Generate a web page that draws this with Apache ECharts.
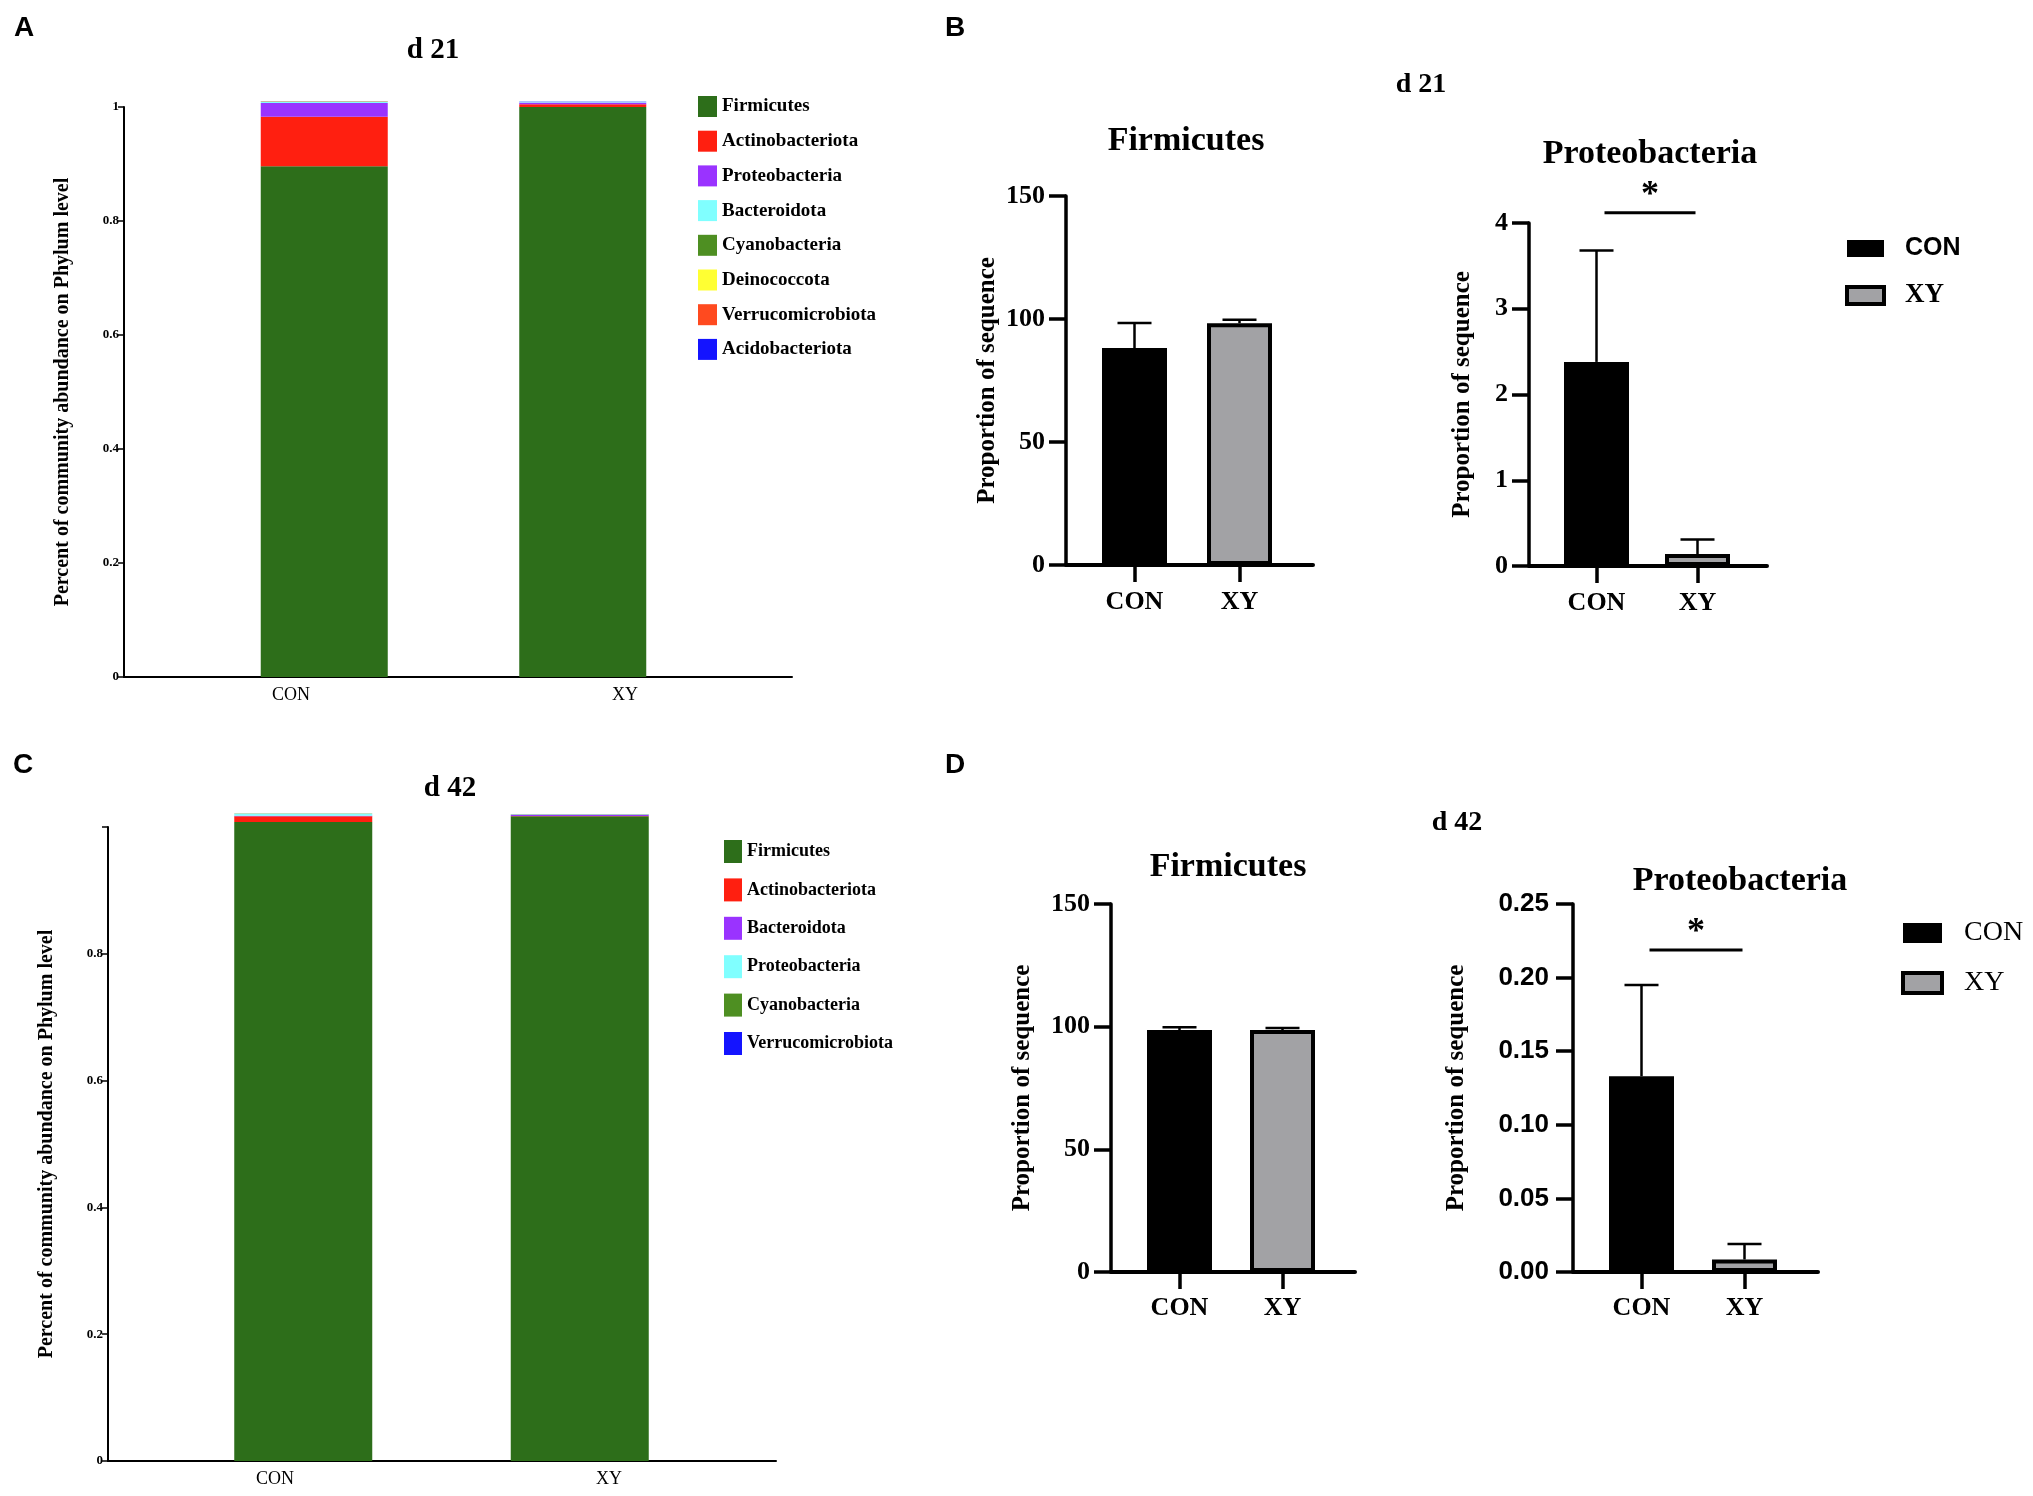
<!DOCTYPE html>
<html>
<head>
<meta charset="utf-8">
<title>Phylum level abundance</title>
<script src="https://cdn.jsdelivr.net/npm/echarts@6/dist/echarts.min.js"></script>
<style>
  * { margin: 0; padding: 0; }
  body { background: #fff; }
  #main { width: 2033px; height: 1496px; }
</style>
</head>
<body>
<div id="main"></div>
<script>
// ---- data ----
var groups = ['CON', 'XY'];

// A: d 21 stacked abundance, one [CON, XY] pair per phylum
var phylaD21 = ['Firmicutes', 'Actinobacteriota', 'Proteobacteria', 'Bacteroidota',
  'Cyanobacteria', 'Deinococcota', 'Verrucomicrobiota', 'Acidobacteriota'];
var colorsD21 = ['#2d6e1a', '#ff1f10', '#9a33ff', '#80ffff', '#4e8f22', '#ffff33', '#ff4a1f', '#1414ff'];
var abundanceD21 = [[0.896, 1.000], [0.087, 0.005], [0.024, 0.003], [0.002, 0.001],
  [0.0005, 0.0002], [0.0003, 0.0001], [0.0003, 0.0001], [0.0002, 0.0001]];

// C: d 42 stacked abundance
var phylaD42 = ['Firmicutes', 'Actinobacteriota', 'Bacteroidota', 'Proteobacteria',
  'Cyanobacteria', 'Verrucomicrobiota'];
var colorsD42 = ['#2d6e1a', '#ff1f10', '#9a33ff', '#80ffff', '#4e8f22', '#1414ff'];
var abundanceD42 = [[1.008, 1.017], [0.009, 0.0005], [0.0008, 0.002], [0.003, 0.0003],
  [0.0003, 0.0002], [0.0002, 0.0001]];

// B / D: mean and SD of proportion of sequence, [CON, XY]
var firmD21Mean = [88.2, 98.3];
var firmD21Sd = [10.2, 1.4];
var proteoD21Mean = [2.38, 0.14];
var proteoD21Sd = [1.30, 0.17];
var firmD42Mean = [98.6, 98.6];
var firmD42Sd = [1.2, 0.9];
var proteoD42Mean = [0.133, 0.0085];
var proteoD42Sd = [0.062, 0.0105];
// significance bar: [line value, star value]
var sigD21 = [4.12, 4.32];
var sigD42 = [0.2188, 0.2305];

var SERIF = '"Liberation Serif", "Times New Roman", serif';
var SANS = '"Liberation Sans", Arial, sans-serif';
var GRAY = '#a2a2a5';

// grids: [left, top, width, height]
var gridBoxes = [
  [124, 107, 668, 570],   // 0 A frame
  [195, 107, 517, 570],   // 1 A bars
  [108, 827, 668, 634],   // 2 C frame
  [165, 827, 553, 634],   // 3 C bars
  [1066, 196, 247, 369],  // 4 B firmicutes frame
  [1082, 196, 210, 369],  // 5 B firmicutes bars
  [1529, 223, 238, 343],  // 6 B proteo frame
  [1546, 223, 202, 343],  // 7 B proteo bars
  [1111, 904, 244, 368],  // 8 D firmicutes frame
  [1128, 904, 206, 368],  // 9 D firmicutes bars
  [1573, 904, 245, 368],  // 10 D proteo frame
  [1590, 904, 206, 368]   // 11 D proteo bars
];

var grid = gridBoxes.map(function (b) {
  return { left: b[0], top: b[1], width: b[2], height: b[3] };
});

var xAxis = [];
var yAxis = [];

// stacked-abundance panels (A, C)
function abundAxes(frame, bars, showTop) {
  xAxis[frame] = {
    type: 'category', gridIndex: frame, data: groups,
    axisLine: { lineStyle: { color: '#000', width: 2 } },
    axisTick: { alignWithLabel: true, length: 6, lineStyle: { color: '#000', width: 1.5 } },
    axisLabel: { color: '#000', fontFamily: SERIF, fontSize: 18, margin: 9 }
  };
  yAxis[frame] = {
    type: 'value', gridIndex: frame, min: 0, max: 1, interval: 0.2,
    name: 'Percent of community abundance on Phylum level',
    nameLocation: 'middle', nameGap: 51,
    nameTextStyle: { color: '#000', fontFamily: SERIF, fontWeight: 'bold', fontSize: 20 },
    splitLine: { show: false },
    axisLine: { show: true, lineStyle: { color: '#000', width: 2 } },
    axisTick: { show: true, length: 6, lineStyle: { color: '#000', width: 1.5 } },
    axisLabel: {
      color: '#000', fontFamily: SERIF, fontWeight: 'bold', fontSize: 13, margin: 5,
      formatter: function (v) { return (v === 1 && !showTop) ? '' : String(+v.toFixed(1)); }
    }
  };
  xAxis[bars] = { type: 'category', gridIndex: bars, data: groups, show: false };
  yAxis[bars] = { type: 'value', gridIndex: bars, min: 0, max: 1, show: false };
}
abundAxes(0, 1, true);
abundAxes(2, 3, false);

// mean +/- SD panels (B, D)
function meanAxes(frame, bars, max, interval, nameGap, labelFont, labelMargin, xMargin, fmt) {
  xAxis[frame] = {
    type: 'category', gridIndex: frame, data: groups,
    axisLine: { lineStyle: { color: '#000', width: 4 } },
    axisTick: { show: false }, axisLabel: { show: false }
  };
  yAxis[frame] = {
    type: 'value', gridIndex: frame, min: 0, max: max, interval: interval,
    name: 'Proportion of sequence', nameLocation: 'middle', nameGap: nameGap,
    nameTextStyle: { color: '#000', fontFamily: SERIF, fontWeight: 'bold', fontSize: 25 },
    splitLine: { show: false },
    axisLine: { show: true, lineStyle: { color: '#000', width: 3.5 } },
    axisTick: { show: true, length: 17, lineStyle: { color: '#000', width: 3.5 } },
    axisLabel: {
      color: '#000', fontFamily: labelFont, fontWeight: 'bold', fontSize: 26, margin: labelMargin,
      formatter: fmt
    }
  };
  xAxis[bars] = {
    type: 'category', gridIndex: bars, data: groups,
    axisLine: { show: false },
    axisTick: { show: true, alignWithLabel: true, length: 17, lineStyle: { color: '#000', width: 3.5 } },
    axisLabel: { color: '#000', fontFamily: SERIF, fontWeight: 'bold', fontSize: 26, margin: xMargin }
  };
  yAxis[bars] = { type: 'value', gridIndex: bars, min: 0, max: max, show: false };
}
meanAxes(4, 5, 150, 50, 66, SERIF, 21, 24);
meanAxes(6, 7, 4, 1, 54, SERIF, 21, 24);
meanAxes(8, 9, 150, 50, 76, SERIF, 21, 23);
meanAxes(10, 11, 0.25, 0.05, 104, SANS, 24, 23, function (v) { return v.toFixed(2); });

var series = [];

function stackSeries(idx, names, colors, values, stackId, barWidth) {
  names.forEach(function (n, i) {
    series.push({
      type: 'bar', name: n, xAxisIndex: idx, yAxisIndex: idx, stack: stackId,
      barWidth: barWidth, clip: false, data: values[i],
      itemStyle: { color: colors[i] }
    });
  });
}
stackSeries(1, phylaD21, colorsD21, abundanceD21, 'd21', 127);
stackSeries(3, phylaD42, colorsD42, abundanceD42, 'd42', 138);

function errRender(params, api) {
  var x = api.value(0), m = api.value(1), s = api.value(2);
  var p0 = api.coord([x, m]);
  var p1 = api.coord([x, m + s]);
  var st = { stroke: '#000', lineWidth: 2.5 };
  return {
    type: 'group', children: [
      { type: 'line', shape: { x1: p0[0], y1: p0[1], x2: p1[0], y2: p1[1] }, style: st },
      { type: 'line', shape: { x1: p1[0] - 17, y1: p1[1], x2: p1[0] + 17, y2: p1[1] }, style: st }
    ]
  };
}

function sigRender(params, api) {
  var yl = api.value(2), ys = api.value(3);
  var p0 = api.coord([0, yl]);
  var p1 = api.coord([1, yl]);
  var sy = api.coord([0, ys])[1];
  return {
    type: 'group', children: [
      { type: 'line', shape: { x1: p0[0] + 8, y1: p0[1], x2: p1[0] - 2, y2: p1[1] },
        style: { stroke: '#000', lineWidth: 3 } },
      { type: 'text', x: (p0[0] + p1[0]) / 2 + 3, y: sy,
        style: { text: '*', fill: '#000', font: 'bold 36px ' + SERIF,
          align: 'center', verticalAlign: 'middle', textAlign: 'center', textVerticalAlign: 'middle' } }
    ]
  };
}

function meanSeries(idx, means, sds, stackId, sig) {
  series.push({
    type: 'bar', name: 'CON', xAxisIndex: idx, yAxisIndex: idx, stack: stackId,
    barWidth: 65, data: [means[0], '-'],
    itemStyle: { color: '#000', borderColor: '#000', borderWidth: 4 }
  });
  series.push({
    type: 'bar', name: 'XY', xAxisIndex: idx, yAxisIndex: idx, stack: stackId,
    barWidth: 65, data: ['-', means[1]],
    itemStyle: { color: GRAY, borderColor: '#000', borderWidth: 4 }
  });
  series.push({
    type: 'custom', xAxisIndex: idx, yAxisIndex: idx, z: 5, clip: false,
    encode: { x: 0, y: 1 }, renderItem: errRender,
    data: [[0, means[0], sds[0]], [1, means[1], sds[1]]]
  });
  if (sig) {
    series.push({
      type: 'custom', xAxisIndex: idx, yAxisIndex: idx, z: 5, clip: false,
      encode: { x: 0, y: 2 }, renderItem: sigRender,
      data: [[0, 1, sig[0], sig[1]]]
    });
  }
}
meanSeries(5, firmD21Mean, firmD21Sd, 'bf21');
meanSeries(7, proteoD21Mean, proteoD21Sd, 'bp21', sigD21);
meanSeries(9, firmD42Mean, firmD42Sd, 'bf42');
meanSeries(11, proteoD42Mean, proteoD42Sd, 'bp42', sigD42);

function phylaLegend(names, colors, left, top, w, h, gap, size) {
  return {
    data: names.map(function (n, i) { return { name: n, itemStyle: { color: colors[i] } }; }),
    orient: 'vertical', left: left, top: top, icon: 'rect',
    itemWidth: w, itemHeight: h, itemGap: gap, selectedMode: false, padding: 0,
    textStyle: { color: '#000', fontFamily: SERIF, fontWeight: 'bold', fontSize: size, lineHeight: h }
  };
}

function groupLegend(left, top, w, h, gap, rich) {
  return {
    data: [
      { name: 'CON', itemStyle: { color: '#000', borderWidth: 0 } },
      { name: 'XY', itemStyle: { color: GRAY, borderColor: '#000', borderWidth: 4 } }
    ],
    orient: 'vertical', left: left, top: top, icon: 'rect',
    itemWidth: w, itemHeight: h, itemGap: gap, selectedMode: false, padding: 0,
    formatter: function (n) { return n === 'CON' ? '{a|CON}' : '{b|XY}'; },
    textStyle: { rich: rich }
  };
}

var legend = [
  phylaLegend(phylaD21, colorsD21, 698, 96, 19, 21, 13.7, 19),
  phylaLegend(phylaD42, colorsD42, 724, 840, 18, 23, 15.4, 18),
  groupLegend(1845, 236, 37, 17, 21, {
    a: { color: '#000', fontFamily: SANS, fontWeight: 'bold', fontSize: 25, lineHeight: 17, padding: [0, 0, 0, 16] },
    b: { color: '#000', fontFamily: SERIF, fontWeight: 'bold', fontSize: 27, lineHeight: 17, padding: [0, 0, 0, 16] }
  }),
  groupLegend(1901, 919, 39, 20, 22, {
    a: { color: '#000', fontFamily: SERIF, fontSize: 28, lineHeight: 20, padding: [0, 0, 0, 17] },
    b: { color: '#000', fontFamily: SERIF, fontSize: 28, lineHeight: 20, padding: [0, 0, 0, 17] }
  })
];

function label(text, x, y, font) {
  return {
    type: 'text', x: x, y: y,
    style: { text: text, fill: '#000', font: font,
      align: 'center', verticalAlign: 'middle', textAlign: 'center', textVerticalAlign: 'middle' }
  };
}
var letterFont = 'bold 28px ' + SANS;
var graphic = [
  label('A', 24, 28, letterFont),
  label('B', 955, 28, letterFont),
  label('C', 23, 765, letterFont),
  label('D', 955, 765, letterFont),
  label('d 21', 433, 51, 'bold 29px ' + SERIF),
  label('d 42', 450, 789, 'bold 29px ' + SERIF),
  label('d 21', 1421, 85, 'bold 28px ' + SERIF),
  label('Firmicutes', 1186, 141, 'bold 34px ' + SERIF),
  label('Proteobacteria', 1650, 154, 'bold 34px ' + SERIF),
  label('d 42', 1457, 823, 'bold 28px ' + SERIF),
  label('Firmicutes', 1228, 867, 'bold 34px ' + SERIF),
  label('Proteobacteria', 1740, 881, 'bold 34px ' + SERIF)
];

var chart = echarts.init(document.getElementById('main'));
chart.setOption({
  animation: false,
  backgroundColor: '#fff',
  grid: grid,
  xAxis: xAxis,
  yAxis: yAxis,
  legend: legend,
  graphic: graphic,
  series: series
});
</script>
</body>
</html>
